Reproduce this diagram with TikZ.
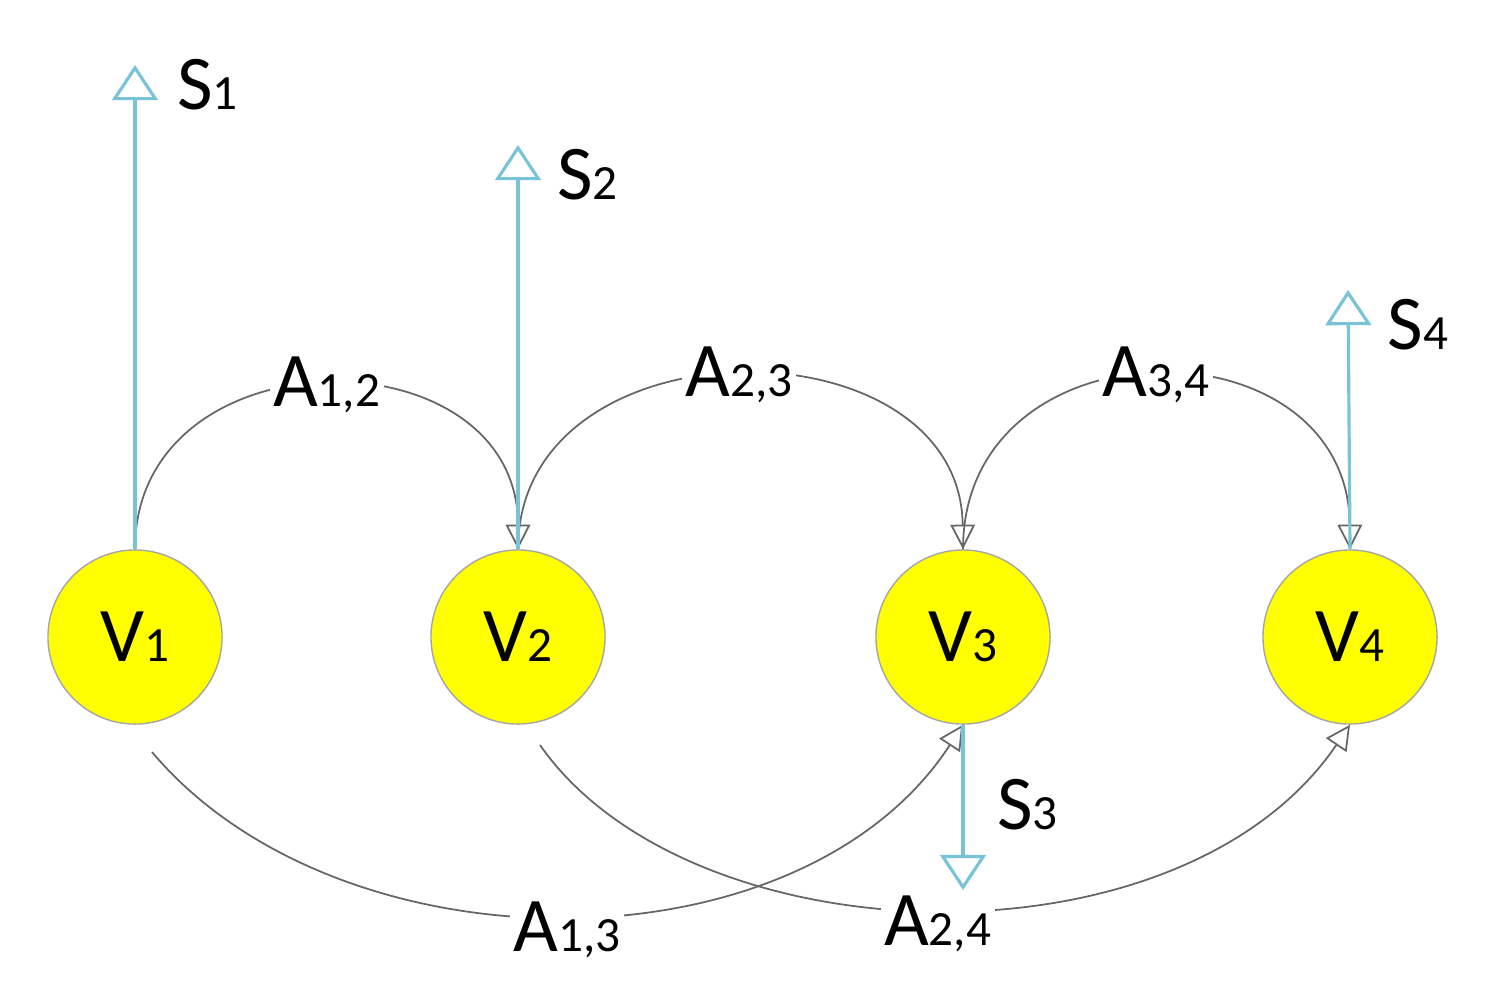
\documentclass[tikz,border=0pt]{standalone}
\usepackage{fontspec}
\setmainfont{Carlito}
\usetikzlibrary{arrows.meta}
\definecolor{sblue}{RGB}{120,195,215}
\definecolor{vyel}{RGB}{255,255,0}
\newcommand{\lab}[2]{#1{\fontsize{14}{14}\selectfont #2}}
\begin{document}
\begin{tikzpicture}[x=0.01cm,y=-0.01cm,
  vert/.style={circle,draw=gray!70,fill=vyel,minimum size=1.74cm,inner sep=0pt,font=\fontsize{22}{22}\selectfont},
  sarr/.style={draw=sblue,line width=0.9pt,-{Triangle[open,length=10pt,width=13pt]}},
  aarr/.style={draw=gray!80!black,line width=0.5pt,-{Triangle[open,length=7pt,width=7pt]}},
  alab/.style={fill=white,inner sep=1pt,font=\fontsize{22}{22}\selectfont},
  slab/.style={font=\fontsize{22}{22}\selectfont,anchor=west}]
\useasboundingbox (0,0) rectangle (1492,996);
\node[vert] (v1) at (135,637) {\lab{V}{1}};
\node[vert] (v2) at (518,637) {\lab{V}{2}};
\node[vert] (v3) at (963,637) {\lab{V}{3}};
\node[vert] (v4) at (1350,637) {\lab{V}{4}};
\coordinate (s1) at (135,65);
\coordinate (s2) at (518,145);
\coordinate (s4) at (1348,290);
\coordinate (s3) at (963,890);
\coordinate (b1) at (152,752);
\coordinate (b2) at (540,745);
% top arcs
\draw[aarr] (v1.north) .. controls (135,330) and (518,330) .. node[alab,pos=0.5]{\lab{A}{1,2}} (v2.north);
\draw[aarr] (v2.north) .. controls (518,317) and (960,317) .. node[alab,pos=0.5]{\lab{A}{2,3}} (v3.north);
\draw[aarr] (v3.north) .. controls (963,317) and (1348,317) .. node[alab,pos=0.5]{\lab{A}{3,4}} (v4.north);
% bottom arcs
\draw[aarr] (b2) .. controls (690,960) and (1180,975) .. node[alab,pos=0.5,yshift=-4pt]{\lab{A}{2,4}} (v4.south);
\draw[aarr] (b1) .. controls (340,975) and (800,975) .. node[alab,pos=0.5,yshift=-4pt]{\lab{A}{1,3}} (v3.south);
% S arrows
\draw[sarr] (v1.north) -- (s1);
\draw[sarr] (v2.north) -- (s2);
\draw[sarr] (v4.north) -- (s4);
\draw[sarr] (v3.south) -- (s3);
\node[slab] (l1) at (165,85) {\lab{S}{1}};
\node[slab] (l2) at (545,175) {\lab{S}{2}};
\node[slab] (l4) at (1375,325) {\lab{S}{4}};
\node[slab] (l3) at (985,805) {\lab{S}{3}};
\end{tikzpicture}
\end{document}
